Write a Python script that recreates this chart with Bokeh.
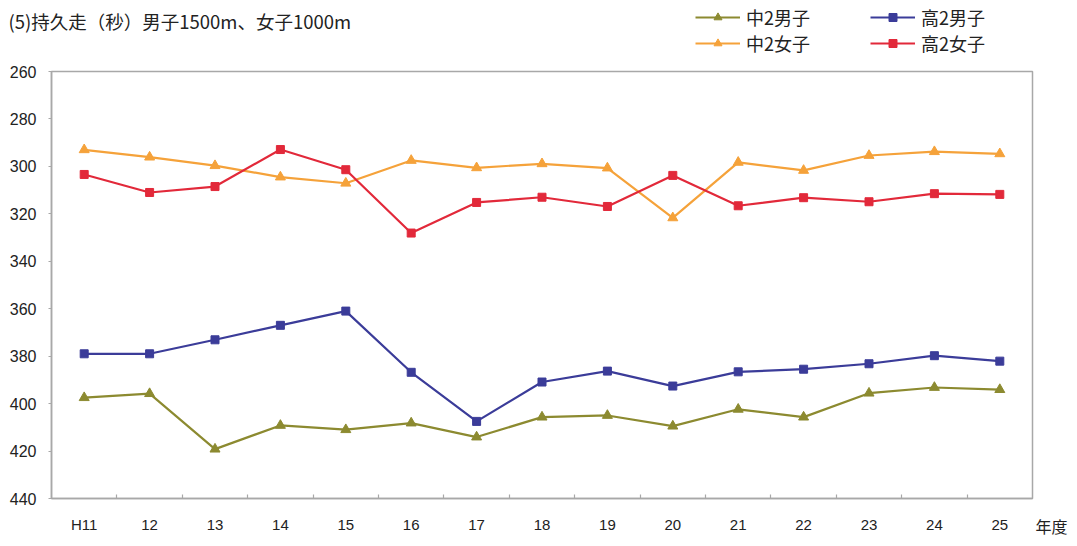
from bokeh.plotting import figure
from bokeh.layouts import column, row
from bokeh.models import Range1d, FixedTicker, Legend, LegendItem, Title
from bokeh.core.properties import value
from bokeh.embed import file_html
from bokeh.resources import INLINE

# ---- data ----
years = ["H11", "12", "13", "14", "15", "16", "17", "18", "19", "20", "21", "22", "23", "24", "25"]
boys_jh = [397.5, 395.8, 419.2, 409.2, 411.0, 408.2, 414.1, 405.7, 405.0, 409.5, 402.4, 405.7, 395.6, 393.2, 394.1]
girls_jh = [293.0, 296.1, 299.7, 304.5, 307.1, 297.5, 300.6, 298.9, 300.7, 321.7, 298.3, 301.7, 295.4, 293.8, 294.7]
boys_hs = [379.0, 379.0, 373.1, 367.0, 361.0, 386.8, 407.5, 390.9, 386.3, 392.6, 386.6, 385.5, 383.2, 379.8, 382.1]
girls_hs = [303.4, 311.0, 308.5, 292.9, 301.4, 328.1, 315.2, 313.0, 316.9, 303.8, 316.6, 313.2, 314.9, 311.5, 311.8]
y_ticks = [260, 280, 300, 320, 340, 360, 380, 400, 420, 440]
series_names = ["中2男子", "中2女子", "高2男子", "高2女子"]
title_text = "(5)持久走（秒）男子1500m、女子1000m"
x_unit = "年度"

xs = list(range(len(years)))
n = len(years)
series_vals = [boys_jh, girls_jh, boys_hs, girls_hs]

GRAY = "#a8a8a8"
TXT = "#222222"
CJK = "Noto Sans CJK JP"
COLORS = ["#8c8a30", "#f5a23a", "#3b3c99", "#e2293a"]
MARKERS = ["triangle", "triangle", "square", "square"]
SIZES = [10, 10, 8, 8]

W = 1069
HEAD_H = 60
MAIN_H = 478

# ---- header: title + legend ----
head = figure(width=W, height=HEAD_H, output_backend="svg", toolbar_location=None,
              x_range=Range1d(0, W), y_range=Range1d(HEAD_H, 0),
              x_axis_type=None, y_axis_type=None,
              min_border_left=0, min_border_right=0, min_border_top=0, min_border_bottom=0)
head.xgrid.visible = False
head.ygrid.visible = False
head.outline_line_color = None
head.text(x=[8], y=[20], text=[title_text], text_font=value(CJK), text_font_size="18.5px",
          text_color=TXT, text_baseline="middle", text_align="left")

items = []
for name, vals, col, mk, sz in zip(series_names, series_vals, COLORS, MARKERS, SIZES):
    # same data as the chart; lies outside the header's range, only used for legend swatches
    ln = head.line(xs, vals, line_color=col, line_width=2.2)
    sc = head.scatter(xs, vals, marker=mk, size=sz, fill_color=col, line_color=col)
    items.append(LegendItem(label=name, renderers=[ln, sc]))
legend = Legend(items=items, ncols=2, location=(695, 4),
                padding=0, margin=0, spacing=-2,
                glyph_width=45, glyph_height=20, label_height=20, label_width=124,
                label_standoff=6,
                label_text_font=CJK, label_text_font_size="18px", label_text_color=TXT,
                border_line_color=None, background_fill_alpha=0)
head.add_layout(legend, "center")

# ---- main chart ----
p = figure(width=W, height=MAIN_H, output_backend="svg", toolbar_location=None,
           x_range=Range1d(-0.5, n - 0.5), y_range=Range1d(y_ticks[-1], y_ticks[0]),
           min_border_left=51, min_border_right=37, min_border_top=11, min_border_bottom=40,
           background_fill_color="white", border_fill_color="white")
p.xgrid.visible = False
p.ygrid.visible = False
p.outline_line_color = GRAY
p.outline_line_width = 1.5

xa = p.xaxis[0]
xa.ticker = FixedTicker(ticks=xs, minor_ticks=[i + 0.5 for i in xs[:-1]])
xa.major_label_overrides = {i: years[i] for i in xs}
xa.major_tick_in = 0
xa.major_tick_out = 0
xa.minor_tick_in = 4
xa.minor_tick_out = 0
xa.minor_tick_line_color = GRAY
xa.minor_tick_line_width = 1.2
xa.axis_line_color = GRAY
xa.axis_line_width = 1.5
xa.major_label_standoff = 17
xa.major_label_text_font = "Liberation Sans"
xa.major_label_text_font_size = "15px"
xa.major_label_text_color = TXT

ya = p.yaxis[0]
ya.ticker = FixedTicker(ticks=y_ticks)
ya.major_tick_in = 0
ya.major_tick_out = 3
ya.minor_tick_in = 0
ya.minor_tick_out = 0
ya.major_tick_line_color = GRAY
ya.axis_line_color = GRAY
ya.axis_line_width = 1.5
ya.major_label_standoff = 12
ya.major_label_text_font = "Liberation Sans"
ya.major_label_text_font_size = "16px"
ya.major_label_text_color = TXT

for vals, col, mk, sz in zip(series_vals, COLORS, MARKERS, SIZES):
    p.line(xs, vals, line_color=col, line_width=2.2)
    p.scatter(xs, vals, marker=mk, size=sz, fill_color=col, line_color=col)

# x unit, bottom right beyond the frame
p.add_layout(Title(text=x_unit, align="right", offset=-35, standoff=-44, vertical_align="top",
                   text_font=CJK, text_font_size="16px", text_font_style="normal",
                   text_color=TXT), "below")

layout = column(row(head), p, spacing=0)
open("out.html", "w").write(file_html(layout, INLINE))
